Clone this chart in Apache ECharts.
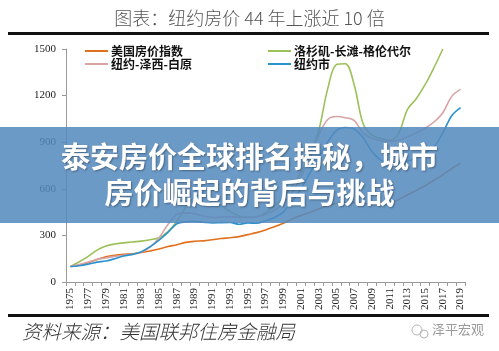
<!DOCTYPE html>
<html>
<head>
<meta charset="utf-8">
<style>
  html, body { margin: 0; padding: 0; background: #fff; }
  #chart { width: 499px; height: 351px; }
</style>
<script src="https://cdn.jsdelivr.net/npm/echarts@6/dist/echarts.min.js"></script>
</head>
<body>
<div id="chart"></div>
<script>
// House price indices, 1975 = 100
const years = [];
for (let y = 1975; y <= 2019; y++) years.push(String(y));

const usIndex = [100, 110, 125, 145, 162, 172, 178, 182, 190, 200, 212, 228, 240, 255, 262, 265, 272, 280, 285, 292,
  305, 318, 335, 355, 378, 405, 428, 448, 470, 492, 505, 512, 512, 505, 500, 505, 512, 530, 560, 590,
  620, 655, 690, 730, 765];
const laLongBeach = [100, 130, 165, 205, 232, 245, 252, 258, 263, 272, 285, 325, 390, 480, 550, 565, 530, 490, 455, 425,
  415, 420, 445, 490, 545, 615, 705, 820, 975, 1240, 1400, 1405, 1270, 1020, 945, 925, 912, 955, 1110, 1180,
  1270, 1380, 1500, null, null];
const nyJerseyWhitePlains = [100, 112, 128, 145, 155, 165, 172, 178, 192, 225, 285, 370, 435, 445, 440, 425, 415, 418, 420, 415,
  418, 420, 435, 462, 505, 575, 675, 800, 945, 1045, 1065, 1058, 1040, 960, 925, 910, 905, 912, 935, 960,
  990, 1030, 1090, 1195, 1240];
const nyCity = [100, 105, 115, 128, 135, 150, 168, 178, 195, 228, 270, 320, 375, 388, 390, 385, 380, 382, 383, 372,
  380, 378, 395, 415, 450, 520, 600, 700, 800, 900, 975, 995, 985, 930, 840, 785, 765, 770, 778, 800,
  830, 870, 960, 1070, 1122];

const seriesNames = ['美国房价指数', '洛杉矶-长滩-格伦代尔', '纽约-泽西-白原', '纽约市'];
const seriesColors = ['#E0701E', '#9DC15A', '#D9A3A6', '#2A93CF'];
const yTicks = { min: 0, max: 1500, step: 300 };

const serif = '"Liberation Serif", "Times New Roman", serif';
const cjk = '"Noto Sans CJK SC", sans-serif';

const chart = echarts.init(document.getElementById('chart'), null, { renderer: 'canvas' });

const dataSets = [usIndex, laLongBeach, nyJerseyWhitePlains, nyCity];

const legendText = { fontFamily: cjk, fontSize: 12, fontWeight: 'bold', color: '#111', padding: [0, 0, 0, -2] };

chart.setOption({
  animation: false,
  backgroundColor: '#ffffff',
  grid: { left: 66, right: 34, top: 49, bottom: 69, containLabel: false },
  legend: [
    {
      data: [seriesNames[0], seriesNames[2]],
      orient: 'vertical', left: 80, top: 40, itemGap: 1,
      icon: 'rect', itemWidth: 23, itemHeight: 2, textStyle: legendText
    },
    {
      data: [seriesNames[1], seriesNames[3]],
      orient: 'vertical', left: 263, top: 40, itemGap: 1,
      icon: 'rect', itemWidth: 23, itemHeight: 2, textStyle: legendText
    }
  ],
  xAxis: {
    type: 'category',
    data: years,
    boundaryGap: true,
    axisLine: { lineStyle: { color: '#9a9a9a', width: 1 } },
    axisTick: { show: true, interval: 0, length: 4, lineStyle: { color: '#9a9a9a' } },
    axisLabel: { interval: 1, rotate: 90, fontFamily: serif, fontSize: 11, color: '#222', margin: 6 },
    splitLine: { show: false }
  },
  yAxis: {
    type: 'value',
    min: yTicks.min, max: yTicks.max, interval: yTicks.step,
    axisLine: { show: true, lineStyle: { color: '#9a9a9a', width: 1 } },
    axisTick: { show: true, length: 4, lineStyle: { color: '#9a9a9a' } },
    axisLabel: { fontFamily: serif, fontSize: 11, color: '#222', margin: 10, formatter: v => String(v) },
    splitLine: { show: false }
  },
  series: seriesNames.map((name, i) => ({
    name: name,
    type: 'line',
    data: dataSets[i],
    smooth: 0.35,
    showSymbol: false,
    symbol: 'none',
    clip: true,
    z: [1, 2, 3, 4][i],
    color: seriesColors[i],
    lineStyle: { color: seriesColors[i], width: 1.6 }
  })),
  graphic: [
    // heading
    {
      type: 'text', left: 'center', top: 9, z: 20,
      style: { text: '图表：纽约房价 44 年上涨近 10 倍', font: '300 18px ' + cjk, fill: '#555' }
    },
    { type: 'rect', shape: { x: 8, y: 32, width: 481, height: 3 }, style: { fill: '#111' }, z: 20 },
    { type: 'rect', shape: { x: 8, y: 314, width: 481, height: 3 }, style: { fill: '#111' }, z: 20 },
    {
      type: 'text', left: 22, top: 322, z: 20,
      style: { text: '资料来源：美国联邦住房金融局', font: 'italic 300 19.5px ' + cjk, fill: '#333' }
    },
    // watermark
    {
      type: 'circle', shape: { cx: 417, cy: 330, r: 5 }, z: 20,
      style: { fill: 'none', stroke: '#b5b5b5', lineWidth: 1 }
    },
    {
      type: 'circle', shape: { cx: 424, cy: 334, r: 4 }, z: 20,
      style: { fill: 'none', stroke: '#b5b5b5', lineWidth: 1 }
    },
    {
      type: 'text', left: 432, top: 323, z: 20,
      style: { text: '泽平宏观', font: '13px ' + cjk, fill: '#9a9a9a' }
    },
    // headline banner
    {
      type: 'rect', shape: { x: 0, y: 127, width: 499, height: 96 }, z: 50,
      style: { fill: 'rgba(84,137,190,0.86)' }
    },
    {
      type: 'text', left: 'center', top: 142, z: 51,
      style: {
        text: '泰安房价全球排名揭秘，城市',
        font: 'bold 29px ' + cjk, fill: '#ffffff',
        textShadowColor: 'rgba(0,0,0,0.35)', textShadowBlur: 2, textShadowOffsetX: 1, textShadowOffsetY: 1
      }
    },
    {
      type: 'text', left: 'center', top: 178, z: 51,
      style: {
        text: '房价崛起的背后与挑战',
        font: 'bold 29px ' + cjk, fill: '#ffffff',
        textShadowColor: 'rgba(0,0,0,0.35)', textShadowBlur: 2, textShadowOffsetX: 1, textShadowOffsetY: 1
      }
    }
  ]
});
</script>
</body>
</html>
